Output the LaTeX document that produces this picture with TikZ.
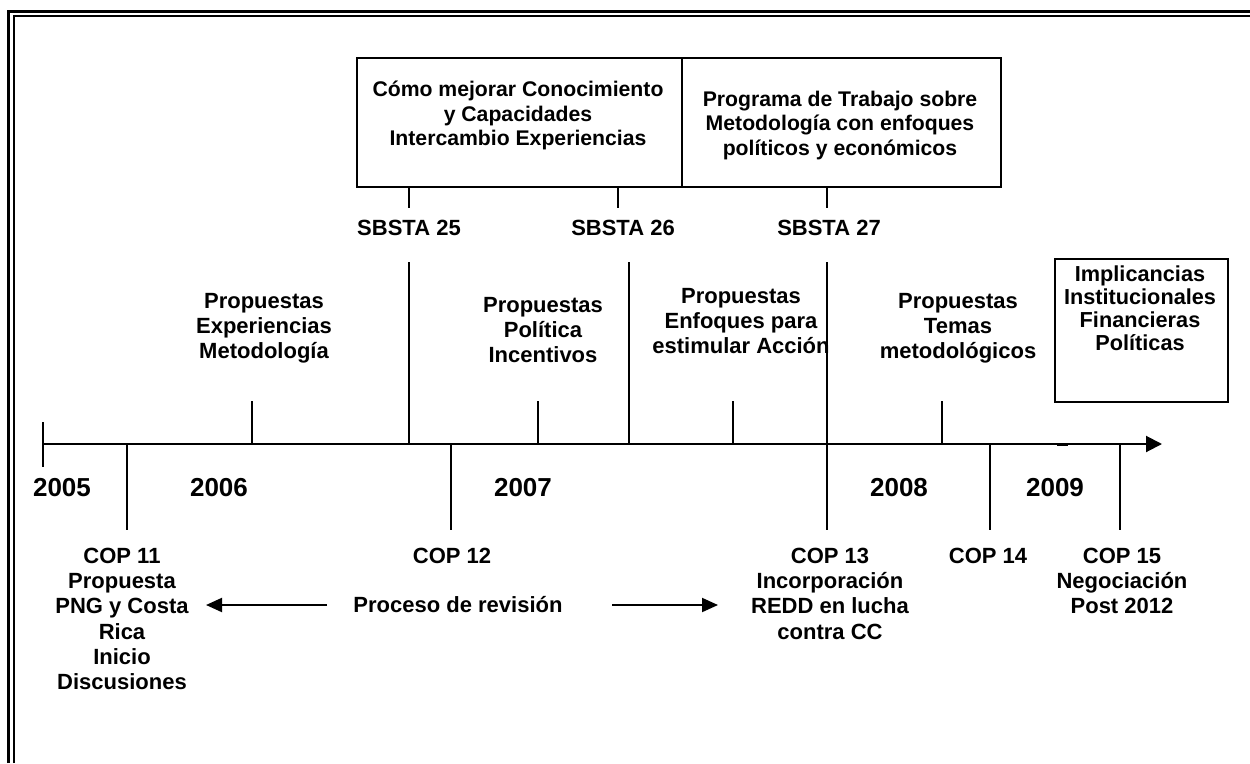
\documentclass[tikz,border=0pt]{standalone}
\usepackage{fontspec}
\setmainfont{Liberation Sans}
\usetikzlibrary{arrows.meta}
\begin{document}
\begin{tikzpicture}[x=1pt,y=-1pt,line width=2pt,
  lbl/.style={font=\fontsize{22}{25.3}\selectfont\bfseries,align=center,inner sep=0pt,anchor=north},
  boxtxt/.style={lbl,font=\fontsize{21.2}{24.6}\selectfont\bfseries},
  yearlbl/.style={font=\fontsize{26}{30}\selectfont\bfseries,inner sep=0pt,anchor=center},
  boxshape/.style={draw,line width=2pt,inner sep=0pt},
  tip/.style={-{Triangle[length=16pt,width=16pt]}},
  smalltip/.style={-{Triangle[length=16pt,width=14pt]}}]
\useasboundingbox (0,0) rectangle (1250,763);
% frame (double line)
\draw[line width=3pt] (8.7,763) -- (8.7,11.3) -- (1250,11.3);
\draw[line width=2pt] (13.7,763) -- (13.7,16.3) -- (1250,16.3);

% top boxes
\node[boxshape,minimum width=325pt,minimum height=129pt,anchor=north west] (boxA) at (356,57) {};
\node[boxshape,minimum width=319pt,minimum height=129pt,anchor=north west] (boxB) at (681,57) {};
\node[boxtxt] (tA) at (518,80) {Cómo mejorar Conocimiento\\y Capacidades\\Intercambio Experiencias};
\node[boxtxt] (tB) at (840,90) {Programa de Trabajo sobre\\Metodología con enfoques\\políticos y económicos};

% SBSTA labels
\node[lbl] (s25) at (409,219) {SBSTA 25};
\node[lbl] (s26) at (623,219) {SBSTA 26};
\node[lbl] (s27) at (829,219) {SBSTA 27};

% coordinates on box bottoms / axis
\coordinate (a25) at (409,186); \coordinate (b25) at (409,208);
\coordinate (a26) at (618,186); \coordinate (b26) at (618,208);
\coordinate (a27) at (827,186); \coordinate (b27) at (827,208);
\draw (a25) -- (b25);
\draw (a26) -- (b26);
\draw (a27) -- (b27);

\coordinate (l25t) at (409,262); \coordinate (l25b) at (409,444);
\coordinate (l26t) at (629,262); \coordinate (l26b) at (629,444);
\coordinate (l27t) at (827,262); \coordinate (l27b) at (827,530);
\draw (l25t) -- (l25b);
\draw (l26t) -- (l26b);
\draw (l27t) -- (l27b);

% axis
\coordinate (ax0) at (43,444); \coordinate (ax1) at (1162,444);
\draw[tip] (ax0) -- (ax1);
\coordinate (m1) at (1057,444); \coordinate (m2) at (1068,444);
\draw[line width=3pt] (m1) -- (m2);

% ticks
\coordinate (t05a) at (43,422); \coordinate (t05b) at (43,467);
\draw (t05a) -- (t05b);
\foreach \x/\n in {252/u1,538/u2,733/u3,942/u4}{
  \coordinate (\n a) at (\x,401); \coordinate (\n b) at (\x,444);
  \draw (\n a) -- (\n b);
}
\foreach \x/\n in {127/c11,451/c12,990/c14,1120/c15}{
  \coordinate (\n a) at (\x,444); \coordinate (\n b) at (\x,530);
  \draw (\n a) -- (\n b);
}

% years
\node[yearlbl] (y05) at (62,488) {2005};
\node[yearlbl] (y06) at (219,488) {2006};
\node[yearlbl] (y07) at (523,488) {2007};
\node[yearlbl] (y08) at (899,488) {2008};
\node[yearlbl] (y09) at (1055,488) {2009};

% upper labels
\node[lbl] (pA) at (264,292) {Propuestas\\Experiencias\\Metodología};
\node[lbl] (pB) at (543,296) {Propuestas\\Política\\Incentivos};
\node[lbl] (pC) at (741,287) {Propuestas\\Enfoques para\\estimular Acción};
\node[lbl] (pD) at (958,292) {Propuestas\\Temas\\metodológicos};

% implicancias box
\node[boxshape,minimum width=173pt,minimum height=143pt,anchor=north west] (boxC) at (1054,258) {};
\node[lbl,font=\fontsize{21.7}{23}\selectfont\bfseries] (tC) at (1140,265) {Implicancias\\Institucionales\\Financieras\\Políticas};

% lower labels
\node[lbl] (k11) at (122,547) {COP 11\\Propuesta\\PNG y Costa\\Rica\\Inicio\\Discusiones};
\node[lbl] (k12) at (452,547) {COP 12};
\node[lbl] (k13) at (830,547) {COP 13\\Incorporación\\REDD en lucha\\contra CC};
\node[lbl] (k14) at (988,547) {COP 14};
\node[lbl] (k15) at (1122,547) {COP 15\\Negociación\\Post 2012};

% proceso de revision
\node[lbl,anchor=center] (proc) at (458,605) {Proceso de revisión};
\coordinate (pl1) at (327,605); \coordinate (pl2) at (206,605);
\coordinate (pr1) at (612,605); \coordinate (pr2) at (718,605);
\draw[smalltip] (pl1) -- (pl2);
\draw[smalltip] (pr1) -- (pr2);
\end{tikzpicture}
\end{document}
